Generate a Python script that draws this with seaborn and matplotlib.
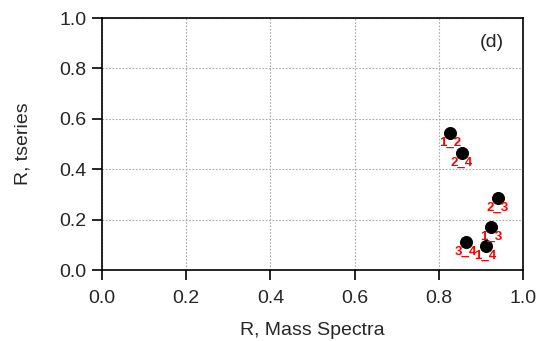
import numpy as np
import matplotlib.pyplot as plt
import pandas as pd
import seaborn as sns

# correlation values
pairs = ["1_2", "2_4", "2_3", "1_3", "3_4", "1_4"]
r_mass = [0.827, 0.855, 0.940, 0.924, 0.864, 0.911]
r_tseries = [0.542, 0.466, 0.287, 0.169, 0.112, 0.096]

df = pd.DataFrame({"pair": pairs, "R, Mass Spectra": r_mass, "R, tseries": r_tseries})

sns.set_style("ticks")
plt.rcParams["font.family"] = ["Liberation Sans", "DejaVu Sans"]

fig = plt.figure(figsize=(5.37, 3.41), dpi=100)
ax = fig.add_axes([0.190, 0.208, 0.784, 0.739])

sns.scatterplot(data=df, x="R, Mass Spectra", y="R, tseries", ax=ax,
                color="black", s=75, edgecolor="black", zorder=3, legend=False)

for _, row in df.iterrows():
    ax.annotate(row["pair"], (row["R, Mass Spectra"], row["R, tseries"]),
                xytext=(0, -7), textcoords="offset points", ha="center", va="center",
                color="red", fontsize=9.5, fontweight="bold", zorder=4)

ax.set_xlim(0, 1)
ax.set_ylim(0, 1)
ticks = np.arange(0, 1.01, 0.2)
ax.set_xticks(ticks)
ax.set_yticks(ticks)
ax.set_xticklabels(["{:.1f}".format(t) for t in ticks])
ax.set_yticklabels(["{:.1f}".format(t) for t in ticks])
ax.grid(True, linestyle=(0, (1.5, 1.5)), color="#aaaaaa", linewidth=0.8)
ax.tick_params(direction="out", length=7, width=1.2, labelsize=14, pad=4, color="black")
ax.tick_params(axis="x", pad=7)
for sp in ax.spines.values():
    sp.set_linewidth(1.2)
    sp.set_color("black")

ax.set_xlabel("R, Mass Spectra", fontsize=14, labelpad=11)
ax.set_ylabel("R, tseries", fontsize=14, labelpad=20)
ax.text(0.955, 0.905, "(d)", transform=ax.transAxes, ha="right", va="center", fontsize=14)

plt.savefig("out.png", dpi=100)
